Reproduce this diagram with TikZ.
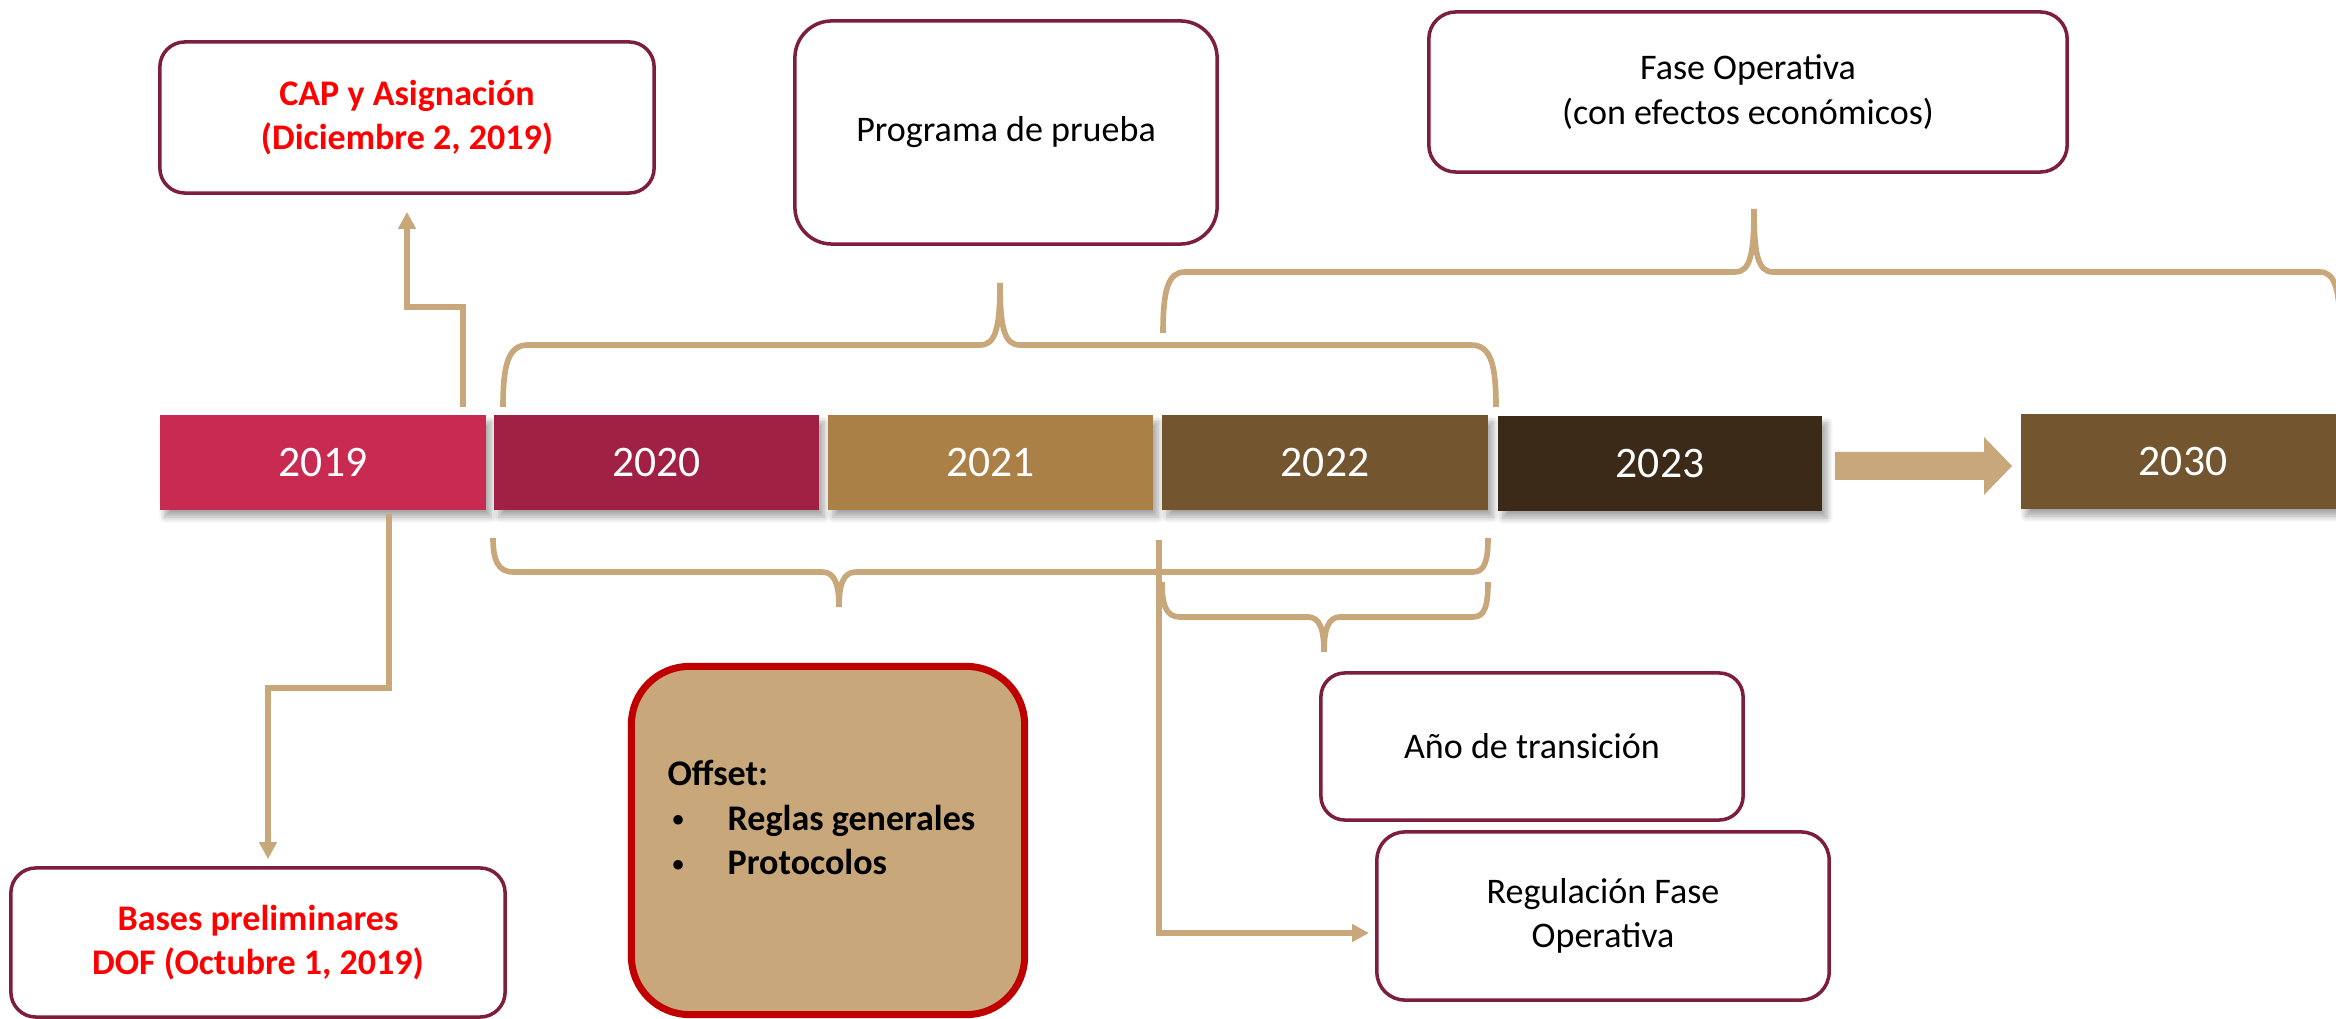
\documentclass[tikz,border=0pt]{standalone}
\usepackage{fontspec}
\setmainfont{Carlito}
\usetikzlibrary{arrows.meta,shadows.blur}
\definecolor{brd}{RGB}{125,30,58}
\definecolor{tanc}{RGB}{200,167,122}
\definecolor{offred}{RGB}{192,0,0}
\definecolor{cA}{RGB}{200,42,82}
\definecolor{cB}{RGB}{160,33,68}
\definecolor{cC}{RGB}{171,128,71}
\definecolor{cD}{RGB}{115,86,48}
\definecolor{cE}{RGB}{59,42,24}
\newcommand{\mybul}{\hspace*{0.05cm}\makebox[0.55cm][l]{\raisebox{0.09em}{\scalebox{0.62}{•}}}}
\begin{document}
\begin{tikzpicture}[x=0.01cm,y=-0.01cm,
  bar/.style={rectangle, inner sep=0pt, minimum width=3.26cm, minimum height=0.95cm,
    text=white, font=\fontsize{12.4}{14}\selectfont,
    blur shadow={shadow xshift=0.05cm, shadow yshift=-0.07cm, shadow opacity=35, shadow blur steps=6, shadow blur radius=0.06cm}},
  box/.style={draw=brd, line width=1pt, fill=white, align=center, inner sep=0pt,
    font=\fontsize{10.25}{12.6}\selectfont},
  redtxt/.style={text=red, font=\bfseries\fontsize{10.25}{12.6}\selectfont},
  tanline/.style={draw=tanc, line width=1.6pt},
  conn/.style={tanline, -{Triangle[length=0.17cm,width=0.17cm]}}
]
\useasboundingbox (0,0) rectangle (2336,1019);

% year bars
\node[bar, fill=cA] (y2019) at (323,462.5) {2019};
\node[bar, fill=cB, minimum width=3.25cm] (y2020) at (656.5,462.5) {2020};
\node[bar, fill=cC, minimum width=3.25cm] (y2021) at (990.5,462.5) {2021};
\node[bar, fill=cD] (y2022) at (1325,462.5) {2022};
\node[bar, fill=cE, minimum width=3.24cm] (y2023) at (1660,463.5) {\raisebox{-0.03cm}{2023}};
\node[bar, fill=cD, minimum width=3.24cm] (y2030) at (2183,461.5) {2030};

% big arrow
\fill[tanc] (1835,452) -- (1984,452) -- (1984,437) -- (2012,466) -- (1984,495) -- (1984,480) -- (1835,480) -- cycle;

% boxes
\node[box, redtxt, minimum width=4.94cm, minimum height=1.51cm, rounded corners=0.25cm] (cap) at (407,117.5) {CAP y Asignación\\(Diciembre 2, 2019)};
\node[box, minimum width=4.22cm, minimum height=2.23cm, rounded corners=0.37cm] (prog) at (1006,132.5) {Programa de prueba};
\node[box, minimum width=6.38cm, minimum height=1.60cm, rounded corners=0.27cm] (fase) at (1748,92) {Fase Operativa\\(con efectos económicos)};
\node[box, redtxt, minimum width=4.94cm, minimum height=1.49cm, rounded corners=0.25cm] (bases) at (258,942.5) {Bases preliminares\\DOF (Octubre 1, 2019)};
\node[draw=offred, line width=2pt, fill=tanc, inner sep=0pt, minimum width=3.93cm, minimum height=3.48cm, rounded corners=0.58cm] (offsetbox) at (828,840.5) {};
\node[anchor=west, inner sep=0pt, align=left, font=\bfseries\fontsize{10.25}{12.7}\selectfont] (offtxt) at ([xshift=0.39cm,yshift=0.23cm]offsetbox.west)
  {Offset:\\\mybul Reglas generales\\\mybul Protocolos};
\node[box, minimum width=4.22cm, minimum height=1.47cm, rounded corners=0.24cm] (ano) at (1532,746.5) {Año de transición};
\node[box, minimum width=4.52cm, minimum height=1.68cm, rounded corners=0.28cm] (reg) at (1603,916) {Regulación Fase\\Operativa};

% braces
\draw[tanline] (503,407) .. controls (503,365) and (508,345) .. (528,345) -- (980,345)
  .. controls (995,345) and (1000,330) .. (1000,283)
  .. controls (1000,330) and (1005,345) .. (1020,345) -- (1471,345)
  .. controls (1491,345) and (1496,365) .. (1496,407);
\draw[tanline] (1163,333) .. controls (1163,290) and (1168,272) .. (1185,272) -- (1735,272)
  .. controls (1750,272) and (1754,255) .. (1754,209)
  .. controls (1754,255) and (1758,272) .. (1773,272) -- (2320,272)
  .. controls (2335,272) and (2340,290) .. (2340,333);
\draw[tanline] (493,538) .. controls (493,560) and (498,572) .. (513,572) -- (822,572)
  .. controls (835,572) and (839,585) .. (839,607)
  .. controls (839,585) and (843,572) .. (856,572) -- (1473,572)
  .. controls (1485,572) and (1488,560) .. (1488,538);
\draw[tanline] (1162,582) .. controls (1162,605) and (1166,617) .. (1180,617) -- (1308,617)
  .. controls (1320,617) and (1324,630) .. (1324,652)
  .. controls (1324,630) and (1328,617) .. (1340,617) -- (1473,617)
  .. controls (1485,617) and (1488,605) .. (1488,582);

% connectors
\draw[conn] ([xshift=1.4cm,yshift=0.07cm]y2019.north) -- ++(0,-100) -| ([yshift=-0.17cm]cap.south);
\draw[conn] ([xshift=0.66cm,yshift=-0.03cm]y2019.south) -- ++(0,174) -| ([xshift=0.1cm,yshift=0.07cm]bases.north);
\draw[conn] ([xshift=-0.02cm,yshift=-0.29cm]y2022.south west) |- ([xshift=-0.06cm,yshift=-0.17cm]reg.west);
\end{tikzpicture}
\end{document}
